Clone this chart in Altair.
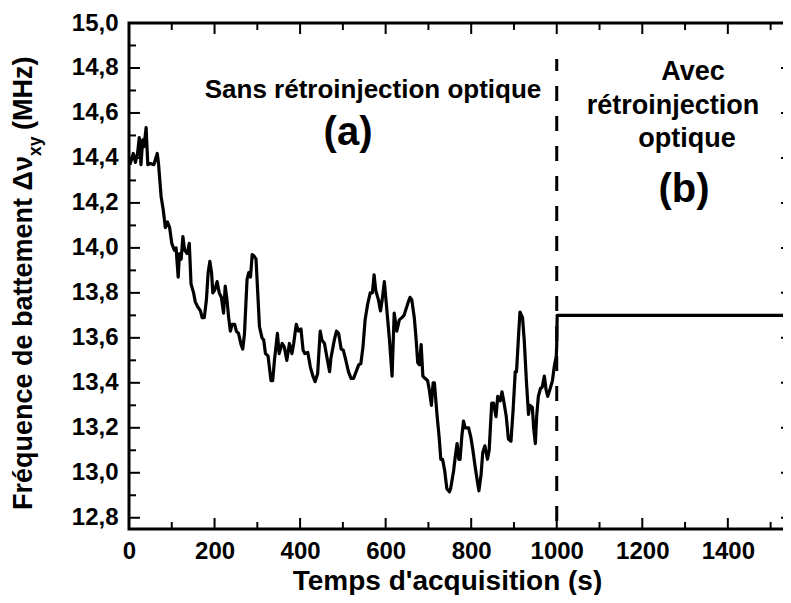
import altair as alt
import pandas as pd

# ---------------- data ----------------
t_values = [2, 10, 15, 20, 24, 28, 32, 35, 40, 44, 50, 58, 66, 69, 75, 80, 85, 90, 95, 100,
            106, 110, 115, 118, 122, 126, 130, 136, 141, 145, 151, 155, 160, 167, 171, 176, 181,
            185, 189, 193, 196, 200, 206, 211, 216, 221, 225, 229, 233, 237, 241, 247, 251, 256,
            262, 266, 270, 276, 280, 284, 288, 292, 297, 301, 305, 311, 315, 319, 325, 332, 336,
            340, 347, 351, 358, 363, 369, 375, 381, 385, 391, 396, 402, 407, 411, 418, 424, 430,
            435, 441, 447, 451, 457, 463, 469, 472, 480, 485, 490, 496, 501, 507, 513, 519, 525,
            531, 537, 542, 547, 552, 558, 564, 569, 573, 577, 583, 588, 592, 597, 603, 609, 615,
            620, 626, 632, 638, 643, 648, 653, 657, 661, 667, 671, 675, 679, 683, 687, 692, 698,
            702, 707, 711, 714, 720, 725, 729, 733, 738, 743, 749, 752, 759, 762, 767, 771, 774,
            778, 782, 786, 794, 799, 804, 809, 815, 818, 823, 827, 832, 838, 842, 848, 852, 858,
            862, 868, 872, 876, 882, 887, 893, 898, 903, 906, 911, 914, 920, 924, 929, 934, 937,
            943, 946, 950, 953, 957, 962, 966, 971, 975, 979, 984, 990, 994, 999, 1000, 1001, 1550]
freq_values = [14.37, 14.42, 14.38, 14.42, 14.49, 14.37, 14.48, 14.45, 14.535, 14.37, 14.375, 14.37,
               14.42, 14.375, 14.23, 14.17, 14.09, 14.115, 14.09, 14.02, 13.99, 14.0, 13.87, 13.975,
               13.95, 14.05, 13.99, 13.975, 14.02, 13.84, 13.80, 13.76, 13.74, 13.72, 13.69, 13.69,
               13.77, 13.89, 13.94, 13.89, 13.80, 13.81, 13.85, 13.80, 13.78, 13.71, 13.83, 13.77,
               13.69, 13.63, 13.66, 13.66, 13.63, 13.62, 13.57, 13.55, 13.62, 13.86, 13.89, 13.87,
               13.97, 13.965, 13.95, 13.80, 13.65, 13.60, 13.59, 13.53, 13.52, 13.41, 13.41, 13.50,
               13.62, 13.53, 13.575, 13.56, 13.50, 13.575, 13.53, 13.575, 13.66, 13.63, 13.64,
               13.545, 13.53, 13.535, 13.47, 13.43, 13.405, 13.44, 13.63, 13.59, 13.575, 13.51,
               13.45, 13.51, 13.59, 13.63, 13.62, 13.55, 13.545, 13.50, 13.45, 13.42, 13.42, 13.45,
               13.48, 13.485, 13.56, 13.68, 13.75, 13.80, 13.80, 13.88, 13.81, 13.77, 13.72, 13.77,
               13.85, 13.72, 13.59, 13.43, 13.71, 13.63, 13.68, 13.69, 13.70, 13.73, 13.76, 13.78,
               13.77, 13.69, 13.60, 13.49, 13.48, 13.57, 13.43, 13.42, 13.41, 13.37, 13.30, 13.40,
               13.40, 13.26, 13.16, 13.06, 13.06, 13.01, 12.93, 12.915, 12.93, 13.01, 13.06, 13.13,
               13.06, 13.06, 13.16, 13.23, 13.20, 13.20, 13.16, 13.10, 13.03, 12.955, 12.92, 12.99,
               13.09, 13.12, 13.06, 13.10, 13.31, 13.31, 13.25, 13.34, 13.32, 13.36, 13.32, 13.25,
               13.15, 13.14, 13.28, 13.45, 13.45, 13.62, 13.715, 13.69, 13.59, 13.41, 13.26, 13.30,
               13.29, 13.20, 13.13, 13.25, 13.34, 13.375, 13.38, 13.43, 13.37, 13.34, 13.37, 13.41,
               13.47, 13.52, 13.57, 13.70, 13.70]

x_major = [0, 200, 400, 600, 800, 1000, 1200, 1400]
x_minor = [100, 300, 500, 700, 900, 1100, 1300, 1500]
y_major = [12.8, 13.0, 13.2, 13.4, 13.6, 13.8, 14.0, 14.2, 14.4, 14.6, 14.8, 15.0]
y_minor = [12.9, 13.1, 13.3, 13.5, 13.7, 13.9, 14.1, 14.3, 14.5, 14.7, 14.9]

divider_t = [1000]
divider_v = [12.75]
divider_v2 = [14.84]

x_title = ["Temps d'acquisition (s)"]
y_title = ["Fréquence de battement \u0394\u03bd", "xy", "(MHz)"]
label_a = ["Sans rétroinjection optique", "(a)"]
label_b = ["Avec", "rétroinjection", "optique", "(b)"]

# ---------------- layout / style ----------------
FONT = "Liberation Sans"
W, H = 663, 506
X_DOMAIN = [0, 1550]
Y_DOMAIN = [12.75, 15.0]

xs = alt.Scale(domain=X_DOMAIN, nice=False, zero=False)
ys = alt.Scale(domain=Y_DOMAIN, nice=False, zero=False)

xaxis = alt.Axis(values=x_major, format="d", labelFont=FONT, labelFontSize=24,
                 labelFontWeight="bold", labelColor="black", ticks=False, domain=False,
                 grid=False, labelPadding=10, labelFlush=False, labelOverlap=False,
                 title=x_title[0], titleFont=FONT, titleFontSize=28, titleFontWeight="bold",
                 titleColor="black", titleX=318, titleY=60, titleBaseline="alphabetic",
                 titleAlign="center")
yaxis = alt.Axis(values=y_major, labelExpr="replace(format(datum.value, '.1f'), '.', ',')",
                 labelFont=FONT, labelFontSize=24, labelFontWeight="bold", labelColor="black",
                 ticks=False, domain=False, grid=False, labelPadding=11, labelFlush=False,
                 labelOverlap=False, title=None)


def X(field="t"):
    return alt.X(field, type="quantitative", scale=xs, axis=xaxis)


def Y(field="v"):
    return alt.Y(field, type="quantitative", scale=ys, axis=yaxis)


series = pd.DataFrame({"t": t_values, "v": freq_values})
line = alt.Chart(series).mark_line(color="black", strokeWidth=3.2, strokeJoin="round",
                                   clip=True).encode(x=X(), y=Y())

div = pd.DataFrame({"t": divider_t, "v": divider_v, "v2": divider_v2})
divider = alt.Chart(div).mark_rule(color="black", strokeWidth=3, strokeDash=[15, 15],
                                   strokeDashOffset=22).encode(x=X(), y=Y(), y2="v2:Q")

xM = pd.DataFrame({"t": x_major})
xm = pd.DataFrame({"t": x_minor})
yM = pd.DataFrame({"v": y_major})
ym = pd.DataFrame({"v": y_minor})

tick_layers = []
for df, L in ((xM, 11), (xm, 7)):
    tick_layers.append(alt.Chart(df).mark_rule(color="black", strokeWidth=2).encode(
        x=X(), y=alt.value(H), y2=alt.value(H - L)))
    tick_layers.append(alt.Chart(df).mark_rule(color="black", strokeWidth=2).encode(
        x=X(), y=alt.value(0), y2=alt.value(L)))
for df, L in ((yM, 11), (ym, 7)):
    tick_layers.append(alt.Chart(df).mark_rule(color="black", strokeWidth=2).encode(
        y=Y(), x=alt.value(0), x2=alt.value(L)))
    tick_layers.append(alt.Chart(df).mark_rule(color="black", strokeWidth=2).encode(
        y=Y(), x=alt.value(W), x2=alt.value(W - L)))


def txt(s, x, y, size, align="center", angle=0):
    kw = dict(font=FONT, fontWeight="bold", fontSize=size, color="black", align=align,
              baseline="alphabetic")
    if angle:
        kw["angle"] = angle
    return alt.Chart(pd.DataFrame({"s": [s]})).mark_text(**kw).encode(
        text="s:N", x=alt.value(x), y=alt.value(y))


texts = [
    txt(label_a[0], 244, 75, 26),
    txt(label_a[1], 219, 122, 40),
    txt(label_b[0], 564, 57, 27),
    txt(label_b[1], 544, 91, 27),
    txt(label_b[2], 558, 124, 27),
    txt(label_b[3], 555, 179, 40),
    txt(y_title[0], -97, 487, 27, align="left", angle=270),
    txt(y_title[1], -88, 133, 17.5, align="left", angle=270),
    txt(y_title[2], -97, 107, 27, align="left", angle=270),
]

chart = alt.layer(line, divider, *tick_layers, *texts).properties(
    width=W, height=H, autosize="none",
    padding={"left": 121, "top": 15, "right": -9, "bottom": 66},
).configure_view(stroke="black", strokeWidth=3)

chart.save("out.html", embed_options={"renderer": "svg", "actions": False})
